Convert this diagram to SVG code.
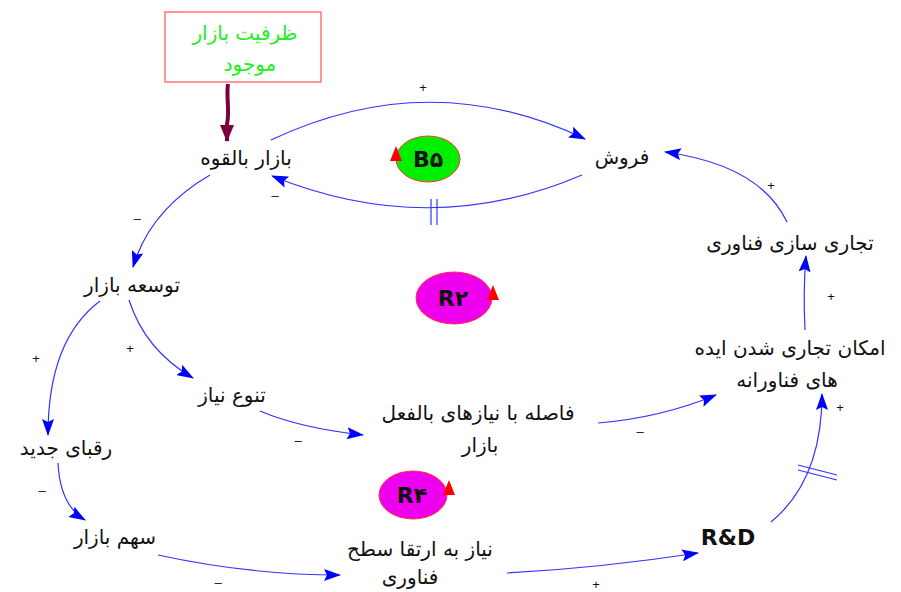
<svg xmlns="http://www.w3.org/2000/svg" width="901" height="592" viewBox="0 0 901 592">
  <defs>
    <style>
      .lbl { font-family: "DejaVu Sans", "Noto Sans", sans-serif; font-size: 20px; fill: #111; text-anchor: middle; }
      .src { font-family: "DejaVu Sans", "Noto Sans", sans-serif; font-size: 20px; fill: #22ee22; text-anchor: middle; }
      .loop { font-family: "DejaVu Sans", "Liberation Sans", sans-serif; font-size: 22px; font-weight: bold; fill: #111; text-anchor: middle; }
      .sign { font-family: "Liberation Sans", sans-serif; font-size: 13px; fill: #111; text-anchor: middle; }
      .link { fill: none; stroke: #3333ff; stroke-width: 1.2; marker-end: url(#head); }
      .delay { stroke: #3333ff; stroke-width: 1.2; }
    </style>
    <marker id="head" markerUnits="userSpaceOnUse" markerWidth="18" markerHeight="12" refX="16" refY="6" orient="auto">
      <path d="M0,0 L17,6 L0,12 L3,6 Z" fill="#0000ff"/>
    </marker>
    <marker id="headMaroon" markerUnits="userSpaceOnUse" markerWidth="18" markerHeight="14" refX="16" refY="7" orient="auto">
      <path d="M0,0 L17,7 L0,14 Z" fill="#7a0040"/>
    </marker>
  </defs>

  <rect width="901" height="592" fill="#ffffff"/>

  <!-- connectors -->
  <g id="connectors">
    <path d="M228,84 C226,98 230,110 227,124 L227,141" fill="none" stroke="#7a0040" stroke-width="4" marker-end="url(#headMaroon)"/>
    <path class="link" d="M271,140 Q430,65 585,139"/>
    <path class="link" d="M582,175 Q430,240 272,176"/>
    <line class="delay" x1="431" y1="199" x2="431" y2="225"/>
    <line class="delay" x1="437" y1="199" x2="437" y2="225"/>
    <path class="link" d="M787,222 Q760,165 665,152"/>
    <path class="link" d="M805,330 Q803,290 806,256"/>
    <path class="link" d="M771,522 Q822,480 822,394"/>
    <line class="delay" x1="798" y1="465" x2="837" y2="475"/>
    <line class="delay" x1="798" y1="470" x2="837" y2="480"/>
    <path class="link" d="M507,573 Q600,568 698,553"/>
    <path class="link" d="M158,555 Q250,575 340,575"/>
    <path class="link" d="M58,463 Q60,505 85,520"/>
    <path class="link" d="M100,301 Q48,340 48,435"/>
    <path class="link" d="M129,300 Q145,350 193,378"/>
    <path class="link" d="M260,411 Q300,428 363,435"/>
    <path class="link" d="M598,423 Q660,418 716,395"/>
    <path class="link" d="M210,175 Q150,210 133,267"/>

    <!-- polarity signs -->
    <text class="sign" x="423" y="92">+</text>
    <text class="sign" x="275" y="200">–</text>
    <text class="sign" x="771" y="190">+</text>
    <text class="sign" x="831" y="301">+</text>
    <text class="sign" x="840" y="412">+</text>
    <text class="sign" x="596" y="589">+</text>
    <text class="sign" x="218" y="587">–</text>
    <text class="sign" x="42" y="495">–</text>
    <text class="sign" x="36" y="363">+</text>
    <text class="sign" x="130" y="353">+</text>
    <text class="sign" x="298" y="445">–</text>
    <text class="sign" x="640" y="436">–</text>
    <text class="sign" x="137" y="223">–</text>
  </g>

  <!-- exogenous input -->
  <g id="market-capacity">
    <rect x="165" y="12" width="156" height="70" fill="#ffffff" stroke="#ff5555" stroke-width="1.2"/>
    <text class="src" x="245" y="40">ظرفیت بازار</text>
    <text class="src" x="250" y="71">موجود</text>
  </g>

  <!-- variables -->
  <g id="potential-market"><text class="lbl" x="246" y="165">بازار بالقوه</text></g>
  <g id="sales"><text class="lbl" x="622" y="164">فروش</text></g>
  <g id="commercialization"><text class="lbl" x="790" y="250">تجاری سازی فناوری</text></g>
  <g id="commercial-feasibility">
    <text class="lbl" x="790" y="355">امکان تجاری شدن ایده</text>
    <text class="lbl" x="787" y="387">های فناورانه</text>
  </g>
  <g id="market-development"><text class="lbl" x="132" y="292">توسعه بازار</text></g>
  <g id="need-diversity"><text class="lbl" x="232" y="402">تنوع نیاز</text></g>
  <g id="gap-actual-needs">
    <text class="lbl" x="478" y="420">فاصله با نیازهای بالفعل</text>
    <text class="lbl" x="480" y="452">بازار</text>
  </g>
  <g id="new-competitors"><text class="lbl" x="66" y="455">رقبای جدید</text></g>
  <g id="market-share"><text class="lbl" x="115" y="544">سهم بازار</text></g>
  <g id="tech-upgrade-need">
    <text class="lbl" x="420" y="556">نیاز به ارتقا سطح</text>
    <text class="lbl" x="410" y="584">فناوری</text>
  </g>
  <g id="rnd"><text class="loop" x="728" y="545" font-family="Liberation Sans, sans-serif">R&amp;D</text></g>

  <!-- loop markers -->
  <g id="loop-b5">
    <ellipse cx="428" cy="159" rx="32" ry="23" fill="#00ee00" stroke="#ff3333" stroke-width="1"/>
    <polygon points="390,161 396,146 402,161" fill="#ff0000"/>
    <text class="loop" x="428" y="167">B۵</text>
  </g>
  <g id="loop-r2">
    <ellipse cx="454" cy="298" rx="38" ry="26" fill="#ee00ee" stroke="#ff3333" stroke-width="1"/>
    <polygon points="487,300 493,285 499,300" fill="#ff0000"/>
    <text class="loop" x="453" y="306">R۲</text>
  </g>
  <g id="loop-r4">
    <ellipse cx="413" cy="495" rx="34" ry="24" fill="#ee00ee" stroke="#ff3333" stroke-width="1"/>
    <polygon points="443,495 449,480 455,495" fill="#ff0000"/>
    <text class="loop" x="412" y="503">R۴</text>
  </g>
</svg>
